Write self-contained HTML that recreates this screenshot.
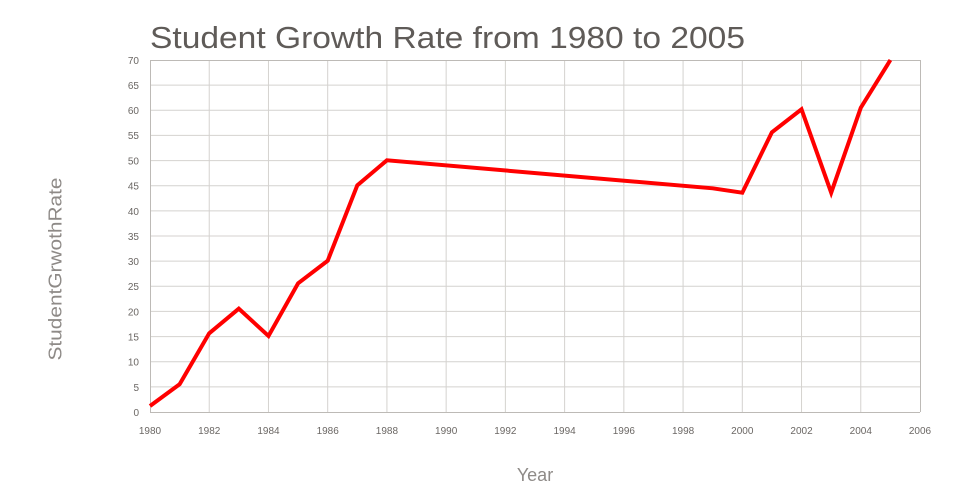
<!DOCTYPE html>
<html><head><meta charset="utf-8"><style>
html,body{margin:0;padding:0;background:#fff;}
svg{display:block;font-family:"Liberation Sans",sans-serif;}
</style></head><body>
<svg width="960" height="500" viewBox="0 0 960 500" xmlns="http://www.w3.org/2000/svg">
<rect width="960" height="500" fill="#fff"/>
<text x="150" y="48" font-size="31" fill="#5f5b58" textLength="595" lengthAdjust="spacingAndGlyphs">Student Growth Rate from 1980 to 2005</text>
<g stroke="#d4d2cf" stroke-width="1">
<line x1="150" y1="85.14" x2="920" y2="85.14"/>
<line x1="150" y1="110.29" x2="920" y2="110.29"/>
<line x1="150" y1="135.43" x2="920" y2="135.43"/>
<line x1="150" y1="160.57" x2="920" y2="160.57"/>
<line x1="150" y1="185.71" x2="920" y2="185.71"/>
<line x1="150" y1="210.86" x2="920" y2="210.86"/>
<line x1="150" y1="236" x2="920" y2="236"/>
<line x1="150" y1="261.14" x2="920" y2="261.14"/>
<line x1="150" y1="286.29" x2="920" y2="286.29"/>
<line x1="150" y1="311.43" x2="920" y2="311.43"/>
<line x1="150" y1="336.57" x2="920" y2="336.57"/>
<line x1="150" y1="361.71" x2="920" y2="361.71"/>
<line x1="150" y1="386.86" x2="920" y2="386.86"/>
<line x1="209.23" y1="60" x2="209.23" y2="412"/>
<line x1="268.46" y1="60" x2="268.46" y2="412"/>
<line x1="327.69" y1="60" x2="327.69" y2="412"/>
<line x1="386.92" y1="60" x2="386.92" y2="412"/>
<line x1="446.15" y1="60" x2="446.15" y2="412"/>
<line x1="505.38" y1="60" x2="505.38" y2="412"/>
<line x1="564.62" y1="60" x2="564.62" y2="412"/>
<line x1="623.85" y1="60" x2="623.85" y2="412"/>
<line x1="683.08" y1="60" x2="683.08" y2="412"/>
<line x1="742.31" y1="60" x2="742.31" y2="412"/>
<line x1="801.54" y1="60" x2="801.54" y2="412"/>
<line x1="860.77" y1="60" x2="860.77" y2="412"/>
</g>
<g stroke="#bdbab6" stroke-width="1" fill="none">
<line x1="150" y1="60.5" x2="920" y2="60.5"/>
<line x1="150.5" y1="60" x2="150.5" y2="412"/>
<line x1="920.5" y1="60" x2="920.5" y2="412"/>
<line x1="150" y1="412.5" x2="920" y2="412.5"/>
</g>
<g font-size="10" fill="#6b6764" text-anchor="end">
<text x="139" y="64">70</text>
<text x="139" y="89">65</text>
<text x="139" y="114">60</text>
<text x="139" y="139">55</text>
<text x="139" y="164.5">50</text>
<text x="139" y="189.5">45</text>
<text x="139" y="215">40</text>
<text x="139" y="240">35</text>
<text x="139" y="265">30</text>
<text x="139" y="290">25</text>
<text x="139" y="315.5">20</text>
<text x="139" y="340.5">15</text>
<text x="139" y="365.5">10</text>
<text x="139" y="391">5</text>
<text x="139" y="416">0</text>
</g>
<g font-size="10" fill="#6b6764" text-anchor="middle">
<text x="150" y="434">1980</text>
<text x="209.23" y="434">1982</text>
<text x="268.46" y="434">1984</text>
<text x="327.69" y="434">1986</text>
<text x="386.92" y="434">1988</text>
<text x="446.15" y="434">1990</text>
<text x="505.38" y="434">1992</text>
<text x="564.62" y="434">1994</text>
<text x="623.85" y="434">1996</text>
<text x="683.08" y="434">1998</text>
<text x="742.31" y="434">2000</text>
<text x="801.54" y="434">2002</text>
<text x="860.77" y="434">2004</text>
<text x="920" y="434">2006</text>
</g>
<text x="535" y="481" font-size="18" fill="#8e8a87" text-anchor="middle">Year</text>
<text transform="translate(61.5,269) rotate(-90)" font-size="18" fill="#8e8a87" text-anchor="middle" textLength="183" lengthAdjust="spacingAndGlyphs">StudentGrwothRate</text>
<polyline fill="none" stroke="#ff0000" stroke-width="4" stroke-linejoin="miter" stroke-miterlimit="4"
points="150,406 179.6,384.3 209.2,333.3 238.8,308.7 268.5,336 298.1,283.3 327.7,260.7 357.3,185.3 386.9,160.3 712.7,188.3 742.3,192.7 771.9,132.3 801.5,109.3 831.2,192.7 860.8,107.7 890.4,60"/>
</svg>
</body></html>
